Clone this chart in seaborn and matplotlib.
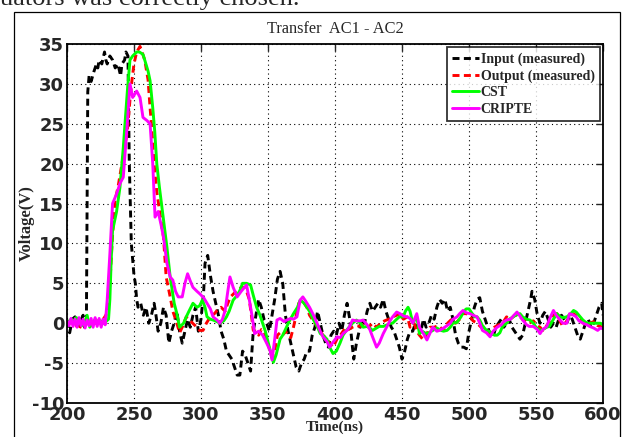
import numpy as np
import seaborn as sns
import matplotlib
matplotlib.use("Agg")
import matplotlib.pyplot as plt
from matplotlib.patches import Rectangle

# values (time in ns, voltage in V)
t_in = [200, 202, 204, 206, 208, 210, 212, 213, 214.5, 215.5, 216.5, 218, 220, 222, 223, 224, 226, 228, 229, 230,
        232, 234, 236, 238, 240, 241, 243, 244, 245.5, 246.5, 248, 250, 251, 252, 253, 255, 257, 259, 261, 263,
        265, 266, 268, 270, 272, 274, 276, 278, 280, 282, 284, 286, 288, 290, 292, 294, 296, 298, 300, 302,
        303, 305, 307, 309, 311, 313, 315, 317, 319, 321, 323, 325, 327, 329, 331, 333, 335, 337, 339, 341,
        343, 345, 347, 349, 351, 353, 355, 357, 359, 361, 363, 365, 367, 369, 371, 373, 375, 377, 379, 381,
        383, 385, 387, 389, 391, 393, 395, 397, 399, 401, 403, 405, 407, 409, 411, 413, 414, 416, 418, 420,
        422, 424, 426, 428, 430, 432, 434, 436, 438, 440, 442, 444, 446, 448, 450, 452, 454, 456, 458, 460,
        462, 464, 466, 468, 470, 472, 474, 476, 478, 480, 482, 484, 486, 488, 490, 492, 494, 496, 498, 500,
        502, 504, 506, 508, 510, 512, 514, 516, 518, 520, 522, 524, 526, 528, 530, 532, 534, 536, 538, 540,
        542, 544, 546, 547, 549, 551, 553, 555, 557, 559, 561, 563, 565, 567, 569, 571, 573, 575, 577, 579,
        581, 583, 585, 587, 589, 591, 593, 595, 597, 599, 600]
v_in = [0.3, -1.2, 0.5, 0.8, -0.3, 0.2, 1.0, -0.5, 0.5, 29, 31, 30.3, 31.5, 32.5, 32, 33, 32.5, 34, 33, 32.5,
        33.5, 33, 32, 32.5, 31, 32.5, 33, 34, 33.5, 20, 10, 6, 5, 3, 2, 2.5, 1, 2, 0, 1,
        2.5, 1.5, -1, 0, 2, 1, -2.5, -1, 0, 1.5, -1, -2.5, -1, 0.5, -0.5, 1, 2, -1, 0.5, 4,
        7.5, 8.5, 6, 4, 2.5, 1, -1, -2, -3.5, -4, -4.5, -5.5, -6.5, -6.5, -3.5, -4, -5, -6, -1, 1,
        3, 2, 0.5, 0, -1, 1, 3, 5.5, 6.5, 5, 1, -1, -2.5, -4, -5.5, -6, -5, -4.5, -3.5, -3.5,
        -1.5, -0.5, 1.5, 0, -1.5, -2.5, -3, -1.5, -1, -1.5, 0, -1, 1, 2.5, 0.5, -3, -4.5, -2.5, -1, 0.5,
        0, 1.5, 2.5, 1.5, 2, 2.5, 2, 3, 1.5, 0.5, -0.5, -1, -2, -3, -4.5, -3.5, -2, -1, -1, 0,
        -0.5, -1, 0.5, -0.5, 0, 1, 0.5, 2, 3, 2.5, 3, 1.5, 2, 0.5, -1.5, -2.5, -3, -3, -3.2, -1,
        0.5, 2, 3, 3.2, 1.5, 0.5, -0.5, -1.5, -1.7, -0.5, 0, 0.5, -0.5, 0, 0.5, -0.5, -1, -1.5, -2, -1.5,
        0, 1.5, 3, 4, 3, 1, 0, 1, 1.5, 0.5, -0.5, 0, -0.5, 0.5, 1, 0.5, 0, 1, 0.5, -0.5,
        -1.5, -2, -1, 0, 0.5, -0.5, 0, 1, 2, 2.5, 1]

t_out = [200, 203, 205, 207, 209, 211, 213, 215, 217, 219, 221, 223, 225, 227, 229, 230.5, 232, 234, 236, 238,
         240, 242, 245, 247, 248.5, 250, 252, 254.5, 256, 258, 260.5, 262, 263, 265, 267, 270, 272, 274, 277, 279,
         282, 284, 286, 289, 292, 295, 297, 299, 301.5, 304, 307, 310, 312, 315, 318, 320, 322, 325, 327, 330,
         333, 336, 338, 339, 341, 343, 345, 347, 349, 351, 353, 355, 357, 359, 361, 363, 365, 367, 369, 371,
         373, 375, 377, 379, 381, 383, 385, 387, 389, 391, 394, 396, 398.5, 400, 402, 404, 406, 408, 410, 413,
         416, 419, 422, 425, 428, 431, 434, 437, 440, 443, 446, 448.5, 451, 454, 456, 459, 461, 463, 466, 468,
         471, 474, 477, 481, 484, 487, 490, 493, 495, 498, 500, 503, 506, 509, 512, 516, 519, 522, 525, 528,
         531, 534, 537, 540, 543, 545, 548, 551, 553, 555, 558, 561, 563, 565.6, 568, 570, 573, 576, 578, 581,
         584, 587, 590, 593, 596, 598, 600]
v_out = [0.3, 0, 0.5, -0.3, -0.8, 0, 0.3, 0.5, 0, 0.2, 0, 0.3, 0, 0.5, 1, 2, 5, 11, 15.5, 17,
         19, 21, 24, 28, 30.5, 32.5, 34, 34.7, 34, 33, 30.5, 27, 25, 20, 16.5, 13, 10.8, 5.8, 3.3, 1.5,
         0, -1.2, -0.5, 0.8, 0.3, -0.2, -0.5, -0.9, -0.9, 0, 0.8, 1.2, 1.6, 2, 1.5, 2.5, 3.3, 3.8, 4, 4.5,
         4.5, 3, 0.5, -0.9, -1, -1.5, -0.8, -1, -2, -3.2, -4.3, -3.5, -1.5, -1.2, -1.5, -1, -1.5, -1.8, -0.5, 1,
         2.5, 3, 2.5, 2, 1, 0.5, 0, -0.5, -1, -1.5, -2, -2.5, -3, -2.5, -1.8, -1.5, -1, -0.5, -0.8, -0.5,
         -0.3, -0.4, 0, -0.5, 0, -0.5, 0, 0.3, 0.5, 0.8, 1, 1.2, 0.5, 0.8, -0.5, 0, -1, -1.5, -2.1, -1.5,
         -0.5, -0.5, -0.3, -0.9, 0, 0.5, 0, 0.5, 1.2, 1.2, 1, 0.3, 0, -0.5, -0.5, -1.3, -0.5, -0.2, 0, 0.8,
         0.5, 1, 1, 0.5, 0.3, 0, 0.3, -0.3, -0.5, -0.9, -0.3, 0.5, 1, 1.2, 0.2, -0.4, 0.3, 1, 1.2, 0.8,
         0.3, -0.3, 0, 0.2, -0.3, -0.4, -0.5]

t_cst = [200, 203, 205, 207, 209, 211, 213, 215, 217, 219, 221, 223, 225, 227, 229, 231, 232, 233, 234, 237,
         239.5, 242, 245, 247, 249, 252, 254, 256.7, 258, 260.5, 262, 264, 265.5, 267, 269, 272, 274.6, 277, 280, 282,
         284, 287, 289, 291, 294, 297, 299, 301, 303, 304.5, 307, 309, 312, 314, 317, 319, 321, 324, 327, 329,
         331, 334, 337, 339, 341.5, 344, 346, 348, 351, 354, 356, 359, 361, 364, 366, 369, 372, 374, 377, 379,
         381, 384, 387, 389, 391, 394, 396, 398.5, 401, 403.7, 406, 408, 411, 413, 416, 419, 421, 424, 426, 428,
         431, 433, 436, 439, 441, 443, 446, 448, 451, 452.5, 454.5, 456, 458, 461, 463, 465, 468, 470, 473, 476,
         479, 481, 483.6, 486, 488, 491, 494, 496, 498, 500, 502, 504, 506, 508, 510, 513, 515, 517, 519, 521,
         523, 525, 528, 530, 533, 535, 538, 540, 543, 545.5, 548, 550, 553, 555, 558, 560, 563, 565.6, 568, 570,
         573, 576, 578, 580, 583, 585, 588, 590, 593, 596, 598, 600]
v_cst = [0, 0.5, 0.3, 0.7, 0.2, -0.3, 0, 1, -0.5, 0, 0.5, 0, 0.3, 0, 0.2, 0.5, 3, 8, 11.6, 14,
         17, 22, 29, 33, 33.5, 34, 34, 33.7, 33, 31.6, 30.4, 27, 24, 20, 17, 13, 9.5, 5.8, 2.5, 1.2,
         -0.5, 0, 0.8, 1.5, 2.5, 2, 2.2, 2.9, 2, 0.8, 0.5, 0.4, 0.2, 0, 0.3, 0.8, 1.5, 2.9, 3.5, 4.1,
         5, 5, 4.8, 3.5, 2, 1, 0, -1, -3, -4.9, -4, -2, -1.5, -0.4, 0.3, 1.2, 2, 2.9, 2.5, 2,
         1.5, 0.4, -0.5, -1.3, -1.5, -2, -3, -3.8, -3.5, -2.5, -1.5, -1, -0.4, 0, 0.4, 0, -0.5, -0.4, -0.6, -0.9,
         -0.6, -0.4, -0.4, -0.2, 0, 0, 0.5, 0.8, 0.8, 1.5, 2, 1.5, 0, 0.8, -1.3, -1, -1.3, -1.2, -0.9, -0.6,
         -0.9, -1, -0.9, -0.5, 0, 0.1, 0.8, 1.5, 1.8, 1.8, 1.3, 0.8, 0.8, 0.4, -0.3, -0.9, -1, -1.3, -1.5, -1.5,
         -1.2, -0.4, 0, 0.5, 0.8, 1, 1.2, 0.8, 0.5, 0.4, 0, -0.5, -0.9, -0.8, -0.5, -0.4, 0.5, 1.2, 0.8, 0.7,
         0.8, 1.2, 1.6, 1.4, 0.8, 0.4, 0, 0, 0, 0, 0, -0.2]

t_cri = [200, 201.5, 203, 204.5, 206, 207.5, 209, 210.5, 212, 213.5, 215, 216.5, 218, 219.5, 221, 222.5, 224, 225.5, 227, 228.5,
         230, 232, 234, 237, 239.5, 242, 245, 247, 249, 250.5, 252, 254.5, 256.7, 259.7, 262, 264, 265.7, 268, 270, 272,
         274.6, 277, 279, 281, 283, 286, 288, 290, 292, 294, 297, 299, 302, 304.5, 307, 309, 312, 314, 316, 318,
         320, 321.6, 324, 327, 330, 334, 336, 338, 340, 343, 346, 349, 351.5, 353, 355, 356.7, 359, 362, 364, 367,
         369, 371.6, 374, 376, 378, 381, 384, 386.6, 389, 391, 394, 396, 398, 401.5, 404, 406, 409, 411, 413, 416,
         419, 421, 424, 426, 428, 431, 433, 436, 438.8, 441, 443, 446, 448.5, 451, 453.7, 456, 458, 461, 463, 466,
         468.6, 471, 473, 476, 478, 481, 483.6, 486, 488, 491, 493, 495.5, 498, 500.7, 503, 506, 508, 510, 513, 515.7,
         518, 521, 524, 526, 528, 531, 533, 535.8, 538, 540, 543, 545, 548, 551, 553, 555, 558, 560, 563, 565,
         568, 570, 573, 575, 577, 580, 582, 585, 588, 590, 593, 596, 598, 600]
v_cri = [0.3, -0.3, 0.6, -0.4, 0.5, -0.5, 0.7, -0.3, 0.5, -0.6, 0.4, -0.3, 0.6, -0.5, 0.7, -0.4, 0.6, -0.5, 0.5, -0.2,
         2.9, 8.7, 15, 16.2, 17.5, 18.3, 25, 30, 28.3, 28.7, 29.1, 28.3, 25.8, 25.4, 25, 20, 13.3, 14, 12.5, 10.8,
         7.5, 5.8, 5.4, 4, 3.3, 3.3, 5, 6.2, 5.3, 4.5, 4, 3.7, 3.2, 2.5, 1.8, 0.8, 0.4, 0, 0.5, 1.6,
         4, 5.8, 4.5, 3.3, 4, 4.8, 3, 1, -1.3, -1, -1.5, -2.5, -3.4, -4.6, -2, 0.4, 0.6, 0.2, 0.4, 0.6,
         0.5, 0.8, 2.9, 3.3, 2.8, 2, 1, 0, -1, -1.7, -2.3, -3, -2.5, -1.7, -1.8, -1.3, -0.9, -0.4, 0.4, 0.3,
         0.3, 0.4, -0.2, -0.8, -1.7, -3, -2.5, -1.3, -0.4, 0.3, 0.8, 1.4, 1.2, 0.9, 0.8, 0.6, 0, 1.2, -0.5, -1.3,
         -2.1, -1.2, -0.5, -1, -0.9, -0.6, -0.3, 0, 0.5, 0.8, 1.2, 1.6, 1.3, 1.2, 1, 0.8, 0, -0.9, -1.2, -1.7,
         -1, -0.5, -0.2, 0.2, 0.4, 0.5, 0.9, 1.4, 0.9, 0.4, -0.2, -0.4, -0.4, -0.8, -1.3, -0.8, -0.4, 0.5, 1.6, 1,
         0.4, 0, 0, 1.2, 1.1, 0.8, 0.3, 0, -0.2, -0.4, -0.6, -0.9, -0.6, -0.7]

x_ticks = [200, 250, 300, 350, 400, 450, 500, 550, 600]
y_ticks = [-10, -5, 0, 5, 10, 15, 20, 25, 30, 35]

sns.set_style("white")
plt.rcParams['font.family'] = ['Liberation Serif', 'DejaVu Serif']
plt.rcParams['axes.unicode_minus'] = False

fig = plt.figure(figsize=(6.22, 4.37), dpi=100)
ax = fig.add_axes([0.1077, 0.0778, 0.8618, 0.8215])

lw = 2.1
sns.lineplot(x=t_in, y=v_in, ax=ax, color='black', linewidth=lw, linestyle=(0, (2.4, 1.5)),
             label='Input (measured)')
sns.lineplot(x=t_out, y=v_out, ax=ax, color='#ff0000', linewidth=lw, linestyle=(0, (2.4, 1.5)),
             label='Output (measured)')
sns.lineplot(x=t_cst, y=v_cst, ax=ax, color='#00ff00', linewidth=lw, label='CST')
sns.lineplot(x=t_cri, y=v_cri, ax=ax, color='#ff00ff', linewidth=lw, label='CRIPTE')

ax.set_xlim(200, 600)
ax.set_ylim(-10, 35)
ax.set_xticks(x_ticks)
ax.set_yticks(y_ticks)
ax.grid(True, color='black', linestyle=(0, (1, 3)), linewidth=0.8)
ax.tick_params(direction='in', length=5, width=1, top=True, right=True, pad=2)
for lab in ax.get_xticklabels() + ax.get_yticklabels():
    lab.set_fontfamily('DejaVu Sans')
    lab.set_fontweight('bold')
    lab.set_fontsize(13)
for s in ax.spines.values():
    s.set_color('black')
    s.set_linewidth(1.3)

ax.set_title('Transfer  AC1 - AC2', fontsize=11.8, pad=8)
ax.set_xlabel('Time(ns)', fontsize=11, fontweight='bold')
ax.set_ylabel('Voltage(V)', fontsize=12, fontweight='bold')
ax.xaxis.set_label_coords(0.5, -0.05)
ax.yaxis.set_label_coords(-0.06, 0.5)

leg = ax.legend(loc='upper right', prop={'weight': 'bold', 'size': 10},
                frameon=True, fancybox=False, edgecolor='black', borderpad=0.35,
                labelspacing=0.25, handlelength=1.9, handletextpad=0.15,
                borderaxespad=0.25)
leg.get_frame().set_linewidth(1.3)

# surrounding page frame and the cut-off line of body text above it
fig.patches.append(Rectangle((0.022, -0.01), 0.975, 0.983, transform=fig.transFigure,
                             fill=False, edgecolor='black', linewidth=0.9))
fig.text(0.0, 0.989, 'uators was correctly chosen.', fontsize=19, va='baseline', ha='left')

fig.savefig('out.png', dpi=100)
